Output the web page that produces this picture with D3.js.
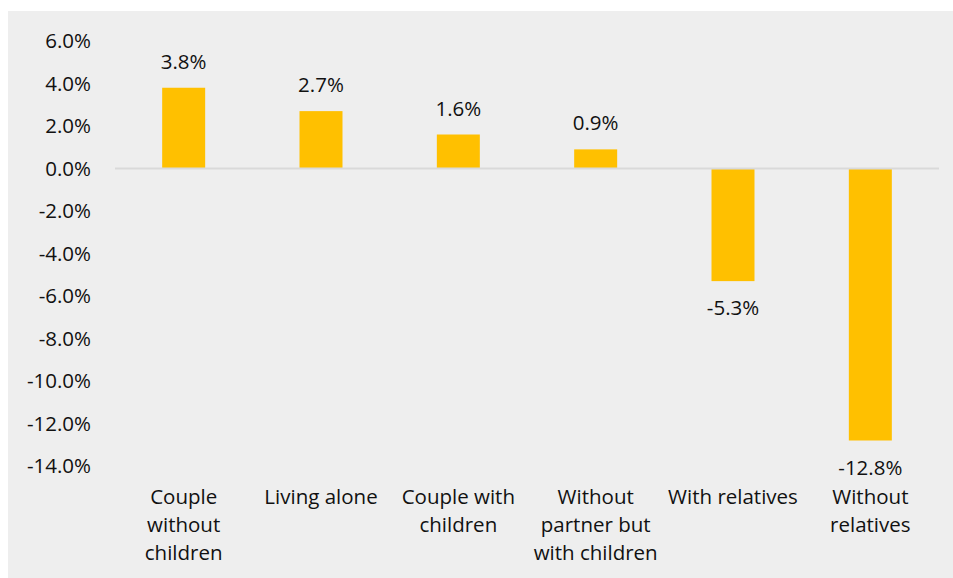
<!DOCTYPE html>
<html>
<head>
<meta charset="utf-8">
<script src="https://cdn.jsdelivr.net/npm/d3@7"></script>
<style>
  html, body { margin: 0; padding: 0; background: #ffffff; }
  svg { display: block; }
  text { font-family: "Open Sans", sans-serif; fill: #111; }
</style>
</head>
<body>
<svg id="chart" width="953" height="578"></svg>
<script>
// Change in share by household type
const categories = [
  ["Couple", "without", "children"],
  ["Living alone"],
  ["Couple with", "children"],
  ["Without", "partner but", "with children"],
  ["With relatives"],
  ["Without", "relatives"]
];
const values = [3.8, 2.7, 1.6, 0.9, -5.3, -12.8];
const yTicks = [6, 4, 2, 0, -2, -4, -6, -8, -10, -12, -14];

const FONT = "'Open Sans', sans-serif";
const FS = "20.5px";
const pct = d => d.toFixed(1) + "%";

const svg = d3.select("#chart");
const W = 953, H = 578;

// panel background
svg.append("rect")
  .attr("x", 8).attr("y", 11)
  .attr("width", W - 8).attr("height", H - 11)
  .attr("fill", "#eeeeee");

const plotLeft = 115, plotRight = 939;
const y = d3.scaleLinear().domain([-14, 6]).range([466, 41]);
const x = d3.scaleBand()
  .domain(d3.range(categories.length))
  .range([plotLeft, plotRight]);
const barW = x.bandwidth() * 0.313;

// y axis labels
const yAxis = d3.axisLeft(y)
  .tickValues(yTicks)
  .tickSize(0)
  .tickPadding(0)
  .tickFormat(pct);
svg.append("g")
  .attr("transform", `translate(91,0)`)
  .call(yAxis)
  .call(g => g.select(".domain").remove())
  .call(g => g.selectAll("text")
    .style("font-size", FS)
    .style("font-family", FONT)
    .attr("fill", "#111"));

// bars
svg.append("g").selectAll("rect")
  .data(values)
  .join("rect")
  .attr("x", (d, i) => x(i) + x.bandwidth() / 2 - barW / 2)
  .attr("y", d => y(Math.max(0, d)))
  .attr("width", barW)
  .attr("height", d => Math.abs(y(d) - y(0)))
  .attr("fill", "#ffc000");

// zero line
svg.append("line")
  .attr("x1", plotLeft).attr("x2", plotRight)
  .attr("y1", y(0)).attr("y2", y(0))
  .attr("stroke", "#d9d9d9").attr("stroke-width", 2);

// value labels
svg.append("g").selectAll("text")
  .data(values)
  .join("text")
  .attr("x", (d, i) => x(i) + x.bandwidth() / 2)
  .attr("y", d => d >= 0 ? y(d) - 19 : y(d) + 34)
  .attr("text-anchor", "middle")
  .style("font-size", FS)
  .text(pct);

// category labels
const catG = svg.append("g").selectAll("text")
  .data(categories)
  .join("text")
  .attr("text-anchor", "middle")
  .style("font-size", FS)
  .attr("transform", (d, i) => `translate(${x(i) + x.bandwidth() / 2},0)`);
catG.selectAll("tspan")
  .data(d => d)
  .join("tspan")
  .attr("x", 0)
  .attr("y", (d, j) => 504 + j * 28)
  .text(d => d);
</script>
</body>
</html>
